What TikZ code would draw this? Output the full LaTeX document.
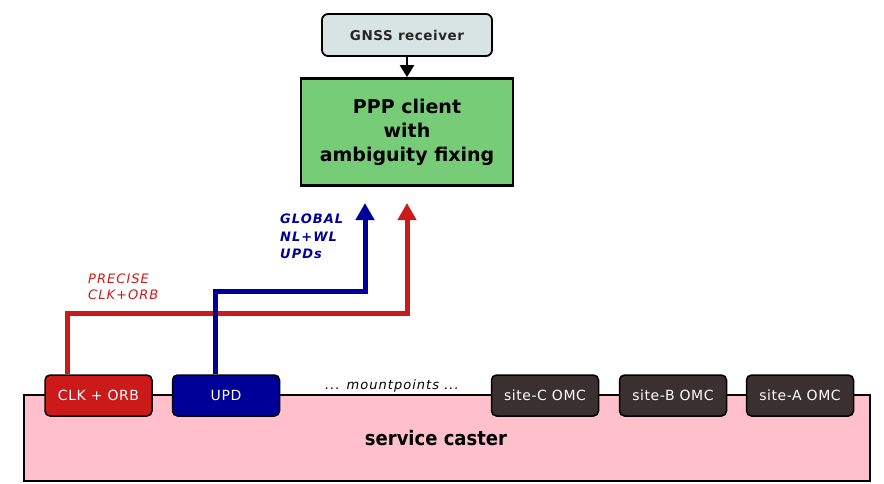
\documentclass[tikz,border=0pt]{standalone}
\usepackage{fontspec}
\setmainfont{DejaVu Sans}
\newfontfamily\spacedfont[LetterSpace=8]{DejaVu Sans}
\newfontfamily\lightspaced[LetterSpace=4]{DejaVu Sans}
\newfontfamily\condfont[FakeStretch=0.9]{DejaVu Sans}
\usetikzlibrary{arrows.meta}
\definecolor{gnssfill}{HTML}{D8E4E4}
\definecolor{pppfill}{HTML}{77CC77}
\definecolor{casterfill}{HTML}{FFC0CB}
\definecolor{myred}{HTML}{CC1A1A}
\definecolor{myblue}{HTML}{000099}
\definecolor{mpdark}{HTML}{3A3030}
\tikzset{
  gnssbox/.style={draw=black, line width=1.8pt, rounded corners=6pt, fill=gnssfill, minimum width=170pt, minimum height=42pt, font=\lightspaced\fontsize{13.5}{15}\selectfont\bfseries, text=black!85},
  pppbox/.style={draw=black, line width=2.8pt, fill=pppfill, minimum width=212pt, minimum height=107pt, align=center, font=\fontsize{19}{24}\selectfont\bfseries},
  casterbox/.style={draw=black, line width=2pt, fill=casterfill, minimum width=846pt, minimum height=86pt},
  mpbox/.style={draw=black, line width=1.5pt, rounded corners=5pt, minimum width=107pt, minimum height=41pt, text=white, font=\lightspaced\fontsize{14}{16}\selectfont},
  flow/.style={line width=5pt},
}
\begin{document}
\begin{tikzpicture}[x=1pt,y=-1pt]
\useasboundingbox (0,0) rectangle (884,483);
\node[gnssbox] (gnss) at (407,35) {GNSS receiver};
\node[pppbox] (ppp) at (407,132) {PPP client\\with\\ambiguity fixing};
\draw[line width=2.5pt, -{Triangle[width=14pt,length=12pt]}] (gnss.south) -- (ppp.north);

\node[casterbox] (caster) at (447,438) {};
\node[font=\condfont\fontsize{20}{24}\selectfont\bfseries] (castertxt) at (436,438) {service caster};

\node[mpbox, fill=myred] (clk) at (98.5,395.5) {CLK + ORB};
\node[mpbox, fill=myblue] (upd) at (226,395.5) {UPD};
\node[mpbox, fill=mpdark] (sitec) at (545,395.5) {site-C OMC};
\node[mpbox, fill=mpdark] (siteb) at (673,395.5) {site-B OMC};
\node[mpbox, fill=mpdark] (sitea) at (800,395.5) {site-A OMC};
\node[font=\spacedfont\fontsize{13}{15}\selectfont\itshape] (mount) at (392,386) {... mountpoints ...};

\coordinate (rc) at (67,313);
\coordinate (redtip) at (407,203);
\coordinate (bc) at (215,291);
\coordinate (bluetip) at (365,203);
\draw[flow, myred, -{Triangle[width=18pt,length=17pt]}] (rc |- clk.north) -- (rc) -| (redtip);
\draw[flow, myblue, -{Triangle[width=18pt,length=17pt]}] (bc |- upd.north) -- (bc) -| (bluetip);

\node[font=\spacedfont\fontsize{13}{17.5}\selectfont\bfseries\itshape, text=myblue, align=left, anchor=north west, inner sep=0pt] (lblue) at (280,214) {GLOBAL\\NL+WL\\UPDs};
\node[font=\spacedfont\fontsize{13}{16}\selectfont\itshape, text=myred, align=left, anchor=north west, inner sep=0pt] (lred) at (88,274) {PRECISE\\CLK+ORB};
\end{tikzpicture}
\end{document}
